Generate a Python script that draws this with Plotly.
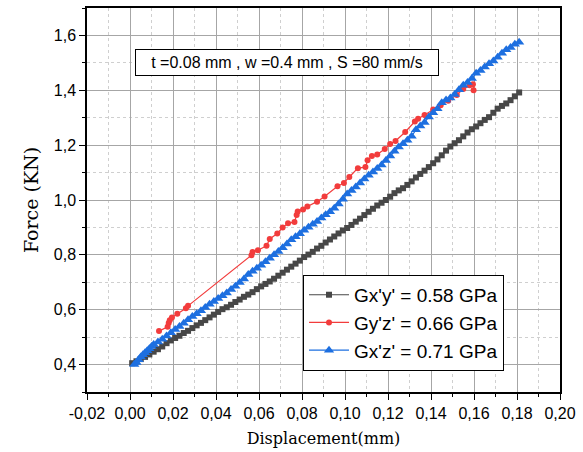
import plotly.graph_objects as go

# ---- data ----
gxy_x = [0.001, 0.003, 0.005, 0.007, 0.009, 0.011, 0.013, 0.015, 0.017, 0.019,
         0.021, 0.023, 0.025, 0.027, 0.029, 0.031, 0.033, 0.035, 0.037, 0.039,
         0.041, 0.043, 0.045, 0.047, 0.049, 0.051, 0.053, 0.055, 0.057, 0.059,
         0.061, 0.063, 0.065, 0.067, 0.069, 0.071, 0.073, 0.075, 0.077, 0.079,
         0.081, 0.083, 0.085, 0.087, 0.089, 0.091, 0.093, 0.095, 0.097, 0.099,
         0.101, 0.103, 0.105, 0.107, 0.109, 0.111, 0.113, 0.115, 0.117, 0.119,
         0.121, 0.123, 0.125, 0.127, 0.129, 0.131, 0.133, 0.135, 0.137, 0.139,
         0.141, 0.143, 0.145, 0.147, 0.149, 0.151, 0.153, 0.155, 0.157, 0.159,
         0.161, 0.163, 0.165, 0.167, 0.169, 0.171, 0.173, 0.175, 0.177, 0.179,
         0.181]
gxy_y = [0.405, 0.412, 0.420, 0.428, 0.437, 0.447, 0.456, 0.466, 0.478, 0.488,
         0.497, 0.505, 0.515, 0.523, 0.533, 0.543, 0.552, 0.562, 0.572, 0.582,
         0.592, 0.602, 0.609, 0.618, 0.628, 0.637, 0.647, 0.655, 0.664, 0.675,
         0.685, 0.694, 0.703, 0.713, 0.724, 0.735, 0.746, 0.757, 0.768, 0.779,
         0.792, 0.801, 0.811, 0.823, 0.833, 0.845, 0.856, 0.867, 0.878, 0.889,
         0.898, 0.909, 0.921, 0.932, 0.945, 0.957, 0.968, 0.980, 0.990, 1.000,
         1.012, 1.025, 1.035, 1.043, 1.055, 1.068, 1.082, 1.095, 1.107, 1.120,
         1.134, 1.148, 1.163, 1.180, 1.195, 1.207, 1.218, 1.232, 1.246, 1.258,
         1.268, 1.280, 1.292, 1.302, 1.318, 1.333, 1.343, 1.352, 1.364, 1.378,
         1.392]

gyz_x = [0.0135, 0.0175, 0.018, 0.0185, 0.0195, 0.022, 0.026, 0.027, 0.0565, 0.057,
         0.0595, 0.0635, 0.065, 0.0685, 0.071, 0.0735, 0.0765, 0.0775, 0.078, 0.0805,
         0.0825, 0.087, 0.0905, 0.0965, 0.0995, 0.102, 0.106, 0.1095, 0.1105, 0.1125,
         0.115, 0.1185, 0.121, 0.1235, 0.128, 0.1325, 0.134, 0.137, 0.141, 0.1445,
         0.148, 0.152, 0.155, 0.158, 0.1595, 0.1598]
gyz_y = [0.522, 0.538, 0.552, 0.562, 0.572, 0.585, 0.605, 0.614, 0.799, 0.810,
         0.817, 0.833, 0.858, 0.878, 0.900, 0.915, 0.920, 0.945, 0.958, 0.965,
         0.976, 0.994, 1.013, 1.050, 1.062, 1.084, 1.116, 1.120, 1.145, 1.160,
         1.166, 1.186, 1.204, 1.215, 1.248, 1.286, 1.296, 1.310, 1.330, 1.345,
         1.362, 1.383, 1.405, 1.418, 1.422, 1.400]

gxz_x = [0.002, 0.003, 0.004, 0.005, 0.006, 0.007, 0.008, 0.009, 0.010, 0.011,
         0.013, 0.015, 0.017, 0.019, 0.021, 0.023, 0.025, 0.027, 0.029, 0.031,
         0.033, 0.035, 0.037, 0.039, 0.041, 0.043, 0.045, 0.047, 0.049, 0.051,
         0.053, 0.055, 0.057, 0.059, 0.061, 0.063, 0.065, 0.067, 0.069, 0.071,
         0.073, 0.075, 0.077, 0.079, 0.081, 0.083, 0.085, 0.087, 0.089, 0.091,
         0.093, 0.095, 0.097, 0.099, 0.101, 0.103, 0.105, 0.107, 0.109, 0.111,
         0.113, 0.115, 0.117, 0.119, 0.121, 0.123, 0.125, 0.127, 0.129, 0.131,
         0.133, 0.135, 0.137, 0.139, 0.141, 0.143, 0.145, 0.147, 0.149, 0.151,
         0.153, 0.155, 0.157, 0.159, 0.161, 0.163, 0.165, 0.167, 0.169, 0.171,
         0.173, 0.175, 0.177, 0.179, 0.181]
gxz_y = [0.400, 0.408, 0.418, 0.428, 0.436, 0.443, 0.450, 0.458, 0.466, 0.473,
         0.482, 0.492, 0.504, 0.516, 0.528, 0.539, 0.551, 0.563, 0.575, 0.585,
         0.596, 0.608, 0.620, 0.630, 0.641, 0.651, 0.661, 0.674, 0.686, 0.699,
         0.712, 0.728, 0.740, 0.751, 0.762, 0.775, 0.788, 0.800, 0.812, 0.826,
         0.840, 0.855, 0.866, 0.877, 0.890, 0.901, 0.912, 0.922, 0.934, 0.946,
         0.957, 0.970, 0.985, 1.003, 1.022, 1.035, 1.047, 1.062, 1.077, 1.090,
         1.102, 1.115, 1.128, 1.144, 1.160, 1.178, 1.193, 1.205, 1.218, 1.232,
         1.256, 1.270, 1.283, 1.303, 1.318, 1.333, 1.355, 1.365, 1.372, 1.385,
         1.402, 1.418, 1.428, 1.443, 1.462, 1.472, 1.485, 1.497, 1.507, 1.520,
         1.535, 1.548, 1.556, 1.568, 1.575]

series_names = ["Gx'y' = 0.58 GPa", "Gy'z' = 0.66 GPa", "Gx'z' = 0.71 GPa"]

x_tick_vals = [-0.02, 0.00, 0.02, 0.04, 0.06, 0.08, 0.10, 0.12, 0.14, 0.16, 0.18, 0.20]
x_tick_text = ["-0,02", "0,00", "0,02", "0,04", "0,06", "0,08", "0,10", "0,12",
               "0,14", "0,16", "0,18", "0,20"]
y_tick_vals = [0.4, 0.6, 0.8, 1.0, 1.2, 1.4, 1.6]
y_tick_text = ["0,4", "0,6", "0,8", "1,0", "1,2", "1,4", "1,6"]

note_text = "t =0.08 mm , w =0.4 mm , S =80 mm/s"

# ---- figure ----
fig = go.Figure()
fig.add_trace(go.Scatter(
    x=gxy_x, y=gxy_y, mode="lines+markers", name=series_names[0],
    line=dict(color="#474747", width=1.2),
    marker=dict(symbol="square", size=6, color="#474747")))
fig.add_trace(go.Scatter(
    x=gyz_x, y=gyz_y, mode="lines+markers", name=series_names[1],
    line=dict(color="#f23c3c", width=1.2),
    marker=dict(symbol="circle", size=6, color="#f23c3c")))
fig.add_trace(go.Scatter(
    x=gxz_x, y=gxz_y, mode="lines+markers", name=series_names[2],
    line=dict(color="#1d6fe0", width=1.2),
    marker=dict(symbol="triangle-up", size=9, color="#1d6fe0")))

axis_common = dict(
    showline=True, linecolor="black", linewidth=1.5, mirror=True,
    ticks="outside", ticklen=6, tickwidth=1.2, tickcolor="black",
    showgrid=True, gridcolor="#a6a6a6", gridwidth=1,
    zeroline=False, automargin=False,
    tickfont=dict(family="Liberation Sans, Arial, sans-serif", size=16, color="black"),
)

fig.update_xaxes(
    range=[-0.02, 0.20], tickmode="array", tickvals=x_tick_vals, ticktext=x_tick_text,
    minor=dict(dtick=0.01, tick0=-0.02, ticks="outside", ticklen=3, tickcolor="black",
               showgrid=True, gridcolor="#cfcfcf", griddash="dot", gridwidth=1),
    title=dict(text="Displacement(mm)", standoff=12,
               font=dict(family="DejaVu Serif, serif", size=16, color="black")),
    **axis_common)
fig.update_yaxes(
    range=[0.3, 1.7], tickmode="array", tickvals=y_tick_vals, ticktext=y_tick_text,
    minor=dict(dtick=0.1, tick0=0.3, ticks="outside", ticklen=3, tickcolor="black",
               showgrid=True, gridcolor="#cfcfcf", griddash="dot", gridwidth=1),
    title=dict(text="Force (KN)", standoff=10,
               font=dict(family="DejaVu Serif, serif", size=19, color="black")),
    **axis_common)

fig.add_annotation(
    xref="paper", yref="paper", x=0.4228, y=0.858, xanchor="center", yanchor="middle",
    text=note_text, showarrow=False, width=302, height=25,
    font=dict(family="Liberation Sans, Arial, sans-serif", size=16, color="black"),
    bordercolor="black", borderwidth=1, borderpad=0, bgcolor="white")

fig.update_layout(
    width=583, height=452,
    margin=dict(l=87, r=23, t=8, b=60),
    paper_bgcolor="white", plot_bgcolor="white",
    showlegend=True,
    legend=dict(x=0.4567, y=0.305, xanchor="left", yanchor="top",
                bgcolor="white", bordercolor="black", borderwidth=1,
                font=dict(family="Liberation Sans, Arial, sans-serif", size=19, color="black"),
                itemwidth=40, tracegroupgap=0),
)

fig.write_html("out.html", config={"displayModeBar": False},
               post_script="document.body.style.margin='0';")
